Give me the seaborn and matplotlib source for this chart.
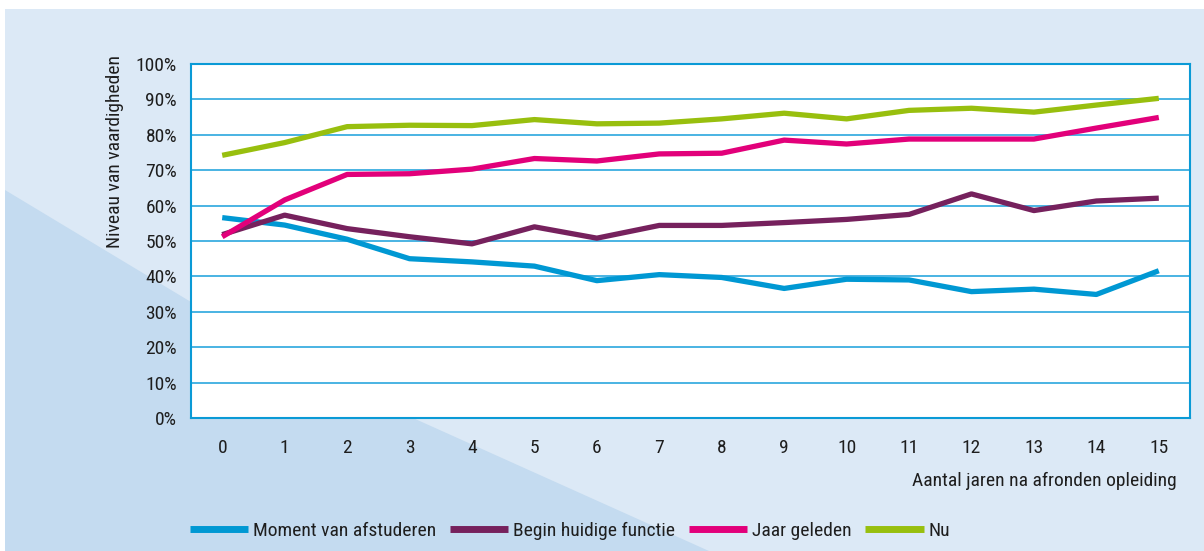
"""Niveau van vaardigheden over jaren na afronden opleiding."""
import numpy as np
import pandas as pd
import matplotlib
import matplotlib.pyplot as plt
from matplotlib.patches import Rectangle, Polygon
from matplotlib.ticker import FixedLocator, PercentFormatter
import seaborn as sns

matplotlib.use("Agg")

# Data (percentages)
years = list(range(16))
moment_afstuderen = [56.6, 54.5, 50.5, 45.0, 44.1, 42.9, 38.8, 40.5, 39.7, 36.6,
                     39.2, 39.0, 35.7, 36.4, 34.9, 41.6]
begin_functie = [51.8, 57.3, 53.5, 51.2, 49.2, 54.0, 50.8, 54.4, 54.4, 55.2,
                 56.1, 57.5, 63.3, 58.6, 61.3, 62.1]
jaar_geleden = [51.2, 61.6, 68.8, 69.0, 70.3, 73.3, 72.6, 74.6, 74.8, 78.5,
                77.4, 78.8, 78.8, 78.8, 81.9, 84.9]
nu = [74.2, 77.8, 82.3, 82.7, 82.6, 84.3, 83.1, 83.3, 84.5, 86.1,
      84.5, 86.9, 87.5, 86.4, 88.4, 90.3]

series_names = ["Moment van afstuderen", "Begin huidige functie", "Jaar geleden", "Nu"]
series_values = [moment_afstuderen, begin_functie, jaar_geleden, nu]

COLORS = {
    "Moment van afstuderen": "#0098d3",
    "Begin huidige functie": "#76215d",
    "Jaar geleden": "#e2007a",
    "Nu": "#98bf0e",
}
AXIS_BLUE = "#0a9ad6"
GRID_BLUE = "#3aaee0"
FS = 14

df = pd.concat(
    [pd.DataFrame({"jaar": years, "niveau": vals, "reeks": name})
     for name, vals in zip(series_names, series_values)],
    ignore_index=True,
)

sns.set_theme(style="white")
plt.rcParams["font.family"] = ["Liberation Sans Narrow", "Roboto Condensed", "Lato", "DejaVu Sans"]
plt.rcParams["text.color"] = "#1e1e1e"
plt.rcParams["xtick.color"] = "#1e1e1e"
plt.rcParams["ytick.color"] = "#1e1e1e"

W, H = 1204, 551
fig = plt.figure(figsize=(W / 100, H / 100), dpi=100)
fig.patch.set_facecolor("white")

# background panel and darker diagonal wedge (pixel coords, y from top)
fig.patches.append(Rectangle((5 / W, 0), 1 - 5 / W, 1 - 9 / H, transform=fig.transFigure,
                             facecolor="#dce9f6", edgecolor="none", zorder=-2))
wedge_px = [(5, 190), (191, 302), (413, 418), (709, 551), (5, 551)]
fig.patches.append(Polygon([(x / W, 1 - y / H) for x, y in wedge_px], closed=True,
                           transform=fig.transFigure, facecolor="#c4dbf0",
                           edgecolor="none", zorder=-1))

ax = fig.add_axes([191 / W, 1 - 418 / H, (1190 - 191) / W, (418 - 64) / H])
ax.set_facecolor("white")

sns.lineplot(data=df, x="jaar", y="niveau", hue="reeks", hue_order=series_names,
             palette=COLORS, linewidth=3.8, ax=ax, legend=True)
for line in ax.get_lines():
    line.set_solid_capstyle("butt")

ax.set_xlim(-0.5, 15.5)
ax.set_ylim(0, 100)
ax.yaxis.set_major_locator(FixedLocator(np.arange(0, 101, 10)))
ax.yaxis.set_major_formatter(PercentFormatter(decimals=0))
ax.grid(axis="y", color=GRID_BLUE, linewidth=1.3, zorder=0)
ax.set_axisbelow(True)

# year labels at centres, tick marks at category boundaries
ax.set_xticks(years)
ax.set_xticklabels([str(y) for y in years])
ax.set_xticks(np.arange(-0.5, 16, 1), minor=True)
ax.tick_params(axis="x", which="major", length=0, pad=15, labelsize=FS)
ax.tick_params(axis="x", which="minor", length=6, width=1.3, color=AXIS_BLUE, direction="out")
ax.tick_params(axis="y", which="major", length=6, width=1.3, color=AXIS_BLUE,
               direction="out", pad=4, labelsize=FS)

for sp in ax.spines.values():
    sp.set_color(AXIS_BLUE)
    sp.set_linewidth(1.5)

ax.set_ylabel("")
ax.set_xlabel("")
fig.text(115 / W, 1 - 152 / H, "Niveau van vaardigheden", fontsize=FS,
         rotation=90, ha="center", va="center")
fig.text(1177 / W, 1 - 481 / H, "Aantal jaren na afronden opleiding", fontsize=FS,
         ha="right", va="center")

handles, labels = ax.get_legend_handles_labels()
ax.get_legend().remove()
leg = fig.legend(handles, labels, loc="center left", bbox_to_anchor=(190 / W, 1 - 531 / H),
                 ncol=4, frameon=False, fontsize=FS, handlelength=3.0,
                 handletextpad=0.25, columnspacing=0.7, borderpad=0, borderaxespad=0)
for line in leg.get_lines():
    line.set_linewidth(5)
    line.set_solid_capstyle("butt")

fig.savefig("out.png", dpi=100)
plt.close(fig)
